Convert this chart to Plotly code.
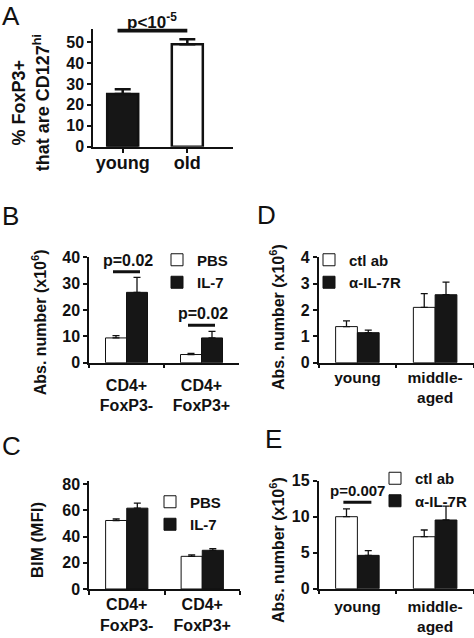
import plotly.graph_objects as go

FONT = "Liberation Sans, Arial, Helvetica, sans-serif"
INK = "#111111"
DARK = "#161616"
WHITE = "#ffffff"
W, H = 474, 638

# ---------------- data ----------------
a_categories = ["young", "old"]
a_values = [25.2, 49.0]
a_errors = [2.3, 2.4]
a_pvalue_text = "p<10<sup>-5</sup>"
a_pvalue_y = 55.6

b_categories = ["CD4+<br>FoxP3-", "CD4+<br>FoxP3+"]
b_pbs = [9.4, 3.1]
b_pbs_err = [0.9, 0.4]
b_il7 = [26.7, 9.4]
b_il7_err = [5.7, 2.5]
b_pvalue_text = ["p=0.02", "p=0.02"]
b_pvalue_y = [34.5, 14.2]

c_categories = ["CD4+<br>FoxP3-", "CD4+<br>FoxP3+"]
c_pbs = [52.2, 24.9]
c_pbs_err = [1.2, 1.1]
c_il7 = [61.6, 29.5]
c_il7_err = [3.8, 1.3]

d_categories = ["young", "middle-<br>aged"]
d_ctl = [1.37, 2.10]
d_ctl_err = [0.22, 0.52]
d_anti = [1.14, 2.58]
d_anti_err = [0.10, 0.48]

e_categories = ["young", "middle-<br>aged"]
e_ctl = [10.0, 7.22]
e_ctl_err = [1.1, 0.93]
e_anti = [4.63, 9.54]
e_anti_err = [0.65, 1.94]
e_pvalue_text = ["p=0.007"]
e_pvalue_y = [12.0]

series_bc = ["PBS", "IL-7"]
series_de = ["ctl ab", "\u03b1-IL-7R"]


def px_x(p):
    return p / W


def px_y(p):
    return 1 - p / H


fig = go.Figure()

# ---------------- panel A ----------------
fig.add_trace(go.Bar(
    x=a_categories, y=a_values, width=0.48,
    marker=dict(color=[DARK, WHITE], line=dict(color=INK, width=2.5)),
    error_y=dict(type="data", array=a_errors, arrayminus=[0] * len(a_errors),
                 symmetric=False, color=INK, thickness=2.5, width=8),
    xaxis="x", yaxis="y", showlegend=False))


def pair(cats, v1, e1, v2, e2, names, xa, ya, legend):
    for vals, errs, fill, off, nm in ((v1, e1, WHITE, -0.28, names[0]),
                                      (v2, e2, DARK, 0.0, names[1])):
        fig.add_trace(go.Bar(
            x=cats, y=vals, width=0.28, offset=off, name=nm,
            marker=dict(color=fill, line=dict(color=INK, width=1)),
            error_y=dict(type="data", array=errs, arrayminus=[0] * len(errs),
                         symmetric=False, color=INK, thickness=1.3, width=3.5),
            xaxis=xa, yaxis=ya, legend=legend, showlegend=True))


pair(b_categories, b_pbs, b_pbs_err, b_il7, b_il7_err, series_bc, "x2", "y2", "legend")
pair(c_categories, c_pbs, c_pbs_err, c_il7, c_il7_err, series_bc, "x3", "y3", "legend2")
pair(d_categories, d_ctl, d_ctl_err, d_anti, d_anti_err, series_de, "x4", "y4", "legend3")
pair(e_categories, e_ctl, e_ctl_err, e_anti, e_anti_err, series_de, "x5", "y5", "legend4")

# ---------------- axes ----------------
tickfont = dict(family=FONT, size=16, color=INK, weight="bold")


def yaxis(dom, rng, dtick, anchor, lw=1.5):
    return dict(domain=[px_y(dom[0]), px_y(dom[1])], range=rng, dtick=dtick, tick0=0,
                anchor=anchor, showline=True, linecolor=INK, linewidth=lw,
                ticks="outside", ticklen=4, tickwidth=lw, tickcolor=INK,
                showgrid=False, zeroline=False, tickfont=tickfont)


def xaxis(dom, rng, cats, anchor, boundaries, fontsize, standoff, lw=1.5):
    ax = dict(domain=[px_x(dom[0]), px_x(dom[1])], range=rng, type="category",
              anchor=anchor, showline=True, linecolor=INK, linewidth=lw,
              ticks="outside", ticklen=4, tickwidth=lw,
              tickcolor=INK, showgrid=False, zeroline=False,
              tickfont=dict(family=FONT, size=fontsize, color=INK, weight="bold"),
              ticklabelstandoff=standoff)
    if boundaries:
        ax["tickson"] = "boundaries"
    return ax


fig.update_layout(
    xaxis=xaxis((93.3, 233), [-0.455, 1.707], a_categories, "y", False, 18, -5, lw=2),
    yaxis=yaxis((146.7, 28.6), [0, 56.5], 10, "x", lw=2),
    xaxis2=xaxis((89, 239), [-0.5, 1.5], b_categories, "y2", True, 16, 7),
    yaxis2=yaxis((362.7, 257.3), [0, 40], 10, "x2"),
    xaxis3=xaxis((89, 240), [-0.5, 1.5], c_categories, "y3", True, 16, 0),
    yaxis3=yaxis((589, 481.4), [0, 82], 20, "x3"),
    xaxis4=xaxis((318.5, 474), [-0.5, 1.5], d_categories, "y4", True, 15.5, 0),
    yaxis4=yaxis((362.7, 257.3), [0, 4], 1, "x4"),
    xaxis5=xaxis((318.5, 474), [-0.5, 1.5], e_categories, "y5", True, 15.5, 3),
    yaxis5=yaxis((588.7, 480.7), [0, 15], 5, "x5"),
)

# ---------------- legends ----------------
legfont = dict(family=FONT, size=15, color=INK, weight="bold")


def legend(left, top):
    return dict(x=px_x(left), y=px_y(top), xanchor="left", yanchor="top",
                bgcolor="rgba(0,0,0,0)", borderwidth=0, font=legfont,
                traceorder="normal", tracegroupgap=0)


fig.update_layout(
    legend=legend(157, 243.5),
    legend2=legend(150, 485.5),
    legend3=legend(309, 243.5),
    legend4=legend(375, 462),
)

# ---------------- significance bars & text ----------------
shapes = []
annotations = []


def pline(xref, yref, x0, x1, y, width):
    shapes.append(dict(type="line", xref=xref, yref=yref, x0=x0, x1=x1, y0=y, y1=y,
                       line=dict(color=INK, width=width)))


def ptext(xref, yref, x, y, text, size, shift):
    annotations.append(dict(xref=xref, yref=yref, x=x, y=y, text=text, showarrow=False,
                            yanchor="bottom", yshift=shift,
                            font=dict(family=FONT, size=size, color=INK, weight="bold")))


pline("x", "y", -0.08, 1.0, a_pvalue_y, 4)
ptext("x", "y", 0.46, a_pvalue_y, a_pvalue_text, 17, -4)
for i, (t, y) in enumerate(zip(b_pvalue_text, b_pvalue_y)):
    pline("x2", "y2", i - 0.18, i + 0.18, y, 3)
    ptext("x2", "y2", i + 0.02, y, t, 16, 1)
for i, (t, y) in enumerate(zip(e_pvalue_text, e_pvalue_y)):
    pline("x5", "y5", i - 0.18, i + 0.18, y, 3)
    ptext("x5", "y5", i, y, t, 15, 1)


# ---------------- axis titles (rotated) ----------------
def ytitle(x, y, text, size):
    annotations.append(dict(xref="paper", yref="paper", x=px_x(x), y=px_y(y), text=text,
                            textangle=-90, showarrow=False, xanchor="center", yanchor="middle",
                            font=dict(family=FONT, size=size, color=INK, weight="bold")))


ytitle(30.3, 103, "% FoxP3+<br>that are CD127<sup>hi</sup>", 18)
ytitle(39.3, 322, "Abs. number (x10<sup>6</sup>)", 16)
ytitle(37.3, 540, "BIM (MFI)", 17)
ytitle(277, 317, "Abs. number (x10<sup>6</sup>)", 16)
ytitle(277, 550, "Abs. number (x10<sup>6</sup>)", 16)

# ---------------- panel letters ----------------
for letter, lx, ly in (("A", 0, 15.5), ("B", 0, 215.7), ("C", 0, 445.7),
                       ("D", 255, 215), ("E", 263, 439)):
    annotations.append(dict(xref="paper", yref="paper", x=px_x(lx), y=px_y(ly), text=letter,
                            showarrow=False, xanchor="left", yanchor="middle",
                            font=dict(family=FONT, size=26, color=INK)))

fig.update_layout(
    template="none",
    width=W, height=H, autosize=False,
    margin=dict(l=0, r=0, t=0, b=0, pad=0),
    paper_bgcolor=WHITE, plot_bgcolor=WHITE,
    barmode="group",
    shapes=shapes, annotations=annotations,
    font=dict(family=FONT, color=INK),
)

fig.write_html("out.html", config={"displayModeBar": False},
               post_script="document.body.style.margin='0';")
